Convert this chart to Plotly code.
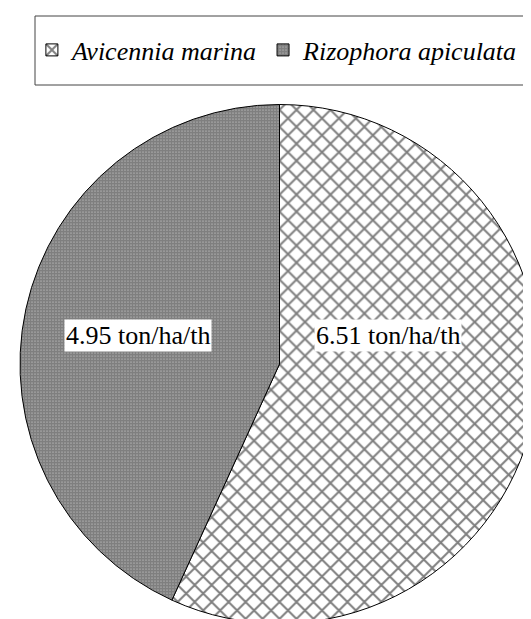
import plotly.graph_objects as go

species = ["Avicennia marina", "Rizophora apiculata"]
values = [6.51, 4.95]
unit = "ton/ha/th"
patterns = ["x", "."]

SERIF = "Times New Roman, Liberation Serif, DejaVu Serif, serif"

fig = go.Figure()
fig.add_trace(go.Pie(
    labels=species,
    values=values,
    sort=False,
    direction="clockwise",
    rotation=0,
    textinfo="none",
    hoverinfo="label+value",
    marker=dict(
        colors=["white", "white"],
        line=dict(color="black", width=1),
        pattern=dict(shape=patterns, fgcolor="black", bgcolor="white",
                     size=[12, 3], solidity=[0.3, 0.85], fillmode="overlay"),
    ),
    domain=dict(x=[12 / 531, 1.0], y=[3 / 619, 1 - 96 / 619]),
))

# value labels with white boxes
label_pos = {"Avicennia marina": (380 / 531, 1 - 327 / 619),
             "Rizophora apiculata": (130 / 531, 1 - 327 / 619)}
for s, v in zip(species, values):
    x, y = label_pos[s]
    fig.add_annotation(x=x, y=y, xref="paper", yref="paper",
                       xanchor="center", yanchor="middle",
                       text=f"{v:.2f} {unit}", showarrow=False,
                       bgcolor="white", borderpad=1,
                       font=dict(family=SERIF, size=26, color="black"))

# legend frame
fig.add_shape(type="rect", xref="paper", yref="paper",
              x0=27 / 531, x1=1.0, y0=1 - 77 / 619, y1=1 - 8 / 619,
              line=dict(color="#444", width=1), fillcolor="rgba(0,0,0,0)")

fig.update_layout(
    width=531, height=619,
    margin=dict(l=0, r=0, t=0, b=0),
    paper_bgcolor="white", plot_bgcolor="white",
    showlegend=True,
    legend=dict(orientation="h", x=0.045, xanchor="left", y=1 - 42 / 619, yanchor="middle",
                font=dict(family=SERIF, size=26, color="black", style="italic"),
                bgcolor="rgba(0,0,0,0)", itemclick=False),
    font=dict(family=SERIF),
)

fig.write_html("out.html")
